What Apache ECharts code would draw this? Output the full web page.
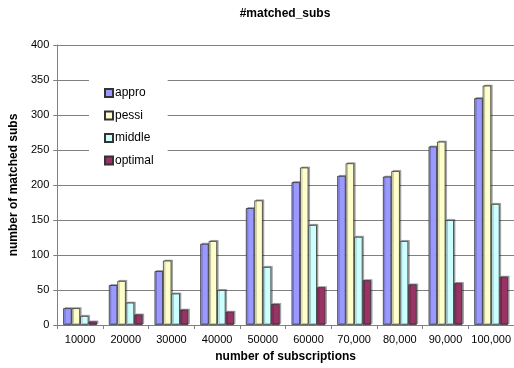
<!DOCTYPE html>
<html>
<head>
<meta charset="utf-8">
<script src="https://cdn.jsdelivr.net/npm/echarts@6/dist/echarts.min.js"></script>
<style>html,body{margin:0;padding:0;background:#fff;overflow:hidden;}#c{width:514px;height:368px;}</style>
</head>
<body>
<div id="c"></div>
<script>
var categories = ['10000','20000','30000','40000','50000','60000','70,000','80,000','90,000','100,000'];
var appro   = [24, 57, 77, 116, 167, 204, 213, 212, 255, 324];
var pessi   = [24, 63, 92, 120, 178, 225, 231, 220, 262, 342];
var middle  = [13, 32, 45, 50, 83, 143, 126, 120, 150, 173];
var optimal = [5, 15, 22, 19, 30, 54, 64, 58, 60, 69];
var yTicks = [0, 50, 100, 150, 200, 250, 300, 350, 400];

var FONT = '"Liberation Sans", Arial, sans-serif';
function mk(name, data, color) {
  return {
    name: name, type: 'bar', data: data,
    barGap: '0%', barCategoryGap: '26%',
    itemStyle: { color: color, borderColor: '#333', borderWidth: 0.8,
      shadowColor: 'rgba(0,0,0,0.3)', shadowOffsetX: 1.5, shadowOffsetY: -1, shadowBlur: 0 },
    emphasis: { disabled: true }, animation: false
  };
}
var chart = echarts.init(document.getElementById('c'), null, { renderer: 'canvas' });
chart.setOption({
  animation: false,
  backgroundColor: '#fff',
  title: { text: '#matched_subs', left: 285, top: 8, padding: 0, textAlign: 'center',
    textStyle: { fontFamily: FONT, fontSize: 12, fontWeight: 'bold', color: '#000' } },
  grid: { left: 56, right: 0, top: 45, bottom: 38, containLabel: false },
  legend: {
    orient: 'vertical', left: 89, top: 75,
    padding: [12, 14, 13, 15], backgroundColor: '#fff',
    itemWidth: 8, itemHeight: 8, itemGap: 10.5, icon: 'rect',
    textStyle: { fontFamily: FONT, fontSize: 12, color: '#000', padding: [0,0,0,-3] },
    data: ['appro', 'pessi', 'middle', 'optimal']
  },
  xAxis: {
    type: 'category', data: categories,
    name: 'number of subscriptions', nameLocation: 'middle', nameGap: 26,
    nameTextStyle: { fontFamily: FONT, fontSize: 12, fontWeight: 'bold', color: '#000' },
    axisLine: { lineStyle: { color: '#808080', width: 1 } },
    axisTick: { show: true, length: 4, lineStyle: { color: '#808080' } },
    axisLabel: { fontFamily: FONT, fontSize: 11, color: '#000', margin: 9, interval: 0 }
  },
  yAxis: {
    type: 'value', min: yTicks[0], max: yTicks[yTicks.length - 1], interval: yTicks[1] - yTicks[0],
    name: 'number of matched subs', nameLocation: 'middle', nameGap: 21,
    nameTextStyle: { fontFamily: FONT, fontSize: 12, fontWeight: 'bold', color: '#000' },
    axisLine: { show: true, lineStyle: { color: '#808080', width: 1 } },
    axisTick: { show: true, length: 4, lineStyle: { color: '#808080' } },
    axisLabel: { fontFamily: FONT, fontSize: 11, color: '#000', margin: 8 },
    splitLine: { show: true, lineStyle: { color: '#808080', width: 1 } }
  },
  series: [
    mk('appro', appro, '#9999FF'),
    mk('pessi', pessi, '#FFFFCC'),
    mk('middle', middle, '#CCFFFF'),
    mk('optimal', optimal, '#993366')
  ]
});
</script>
</body>
</html>
